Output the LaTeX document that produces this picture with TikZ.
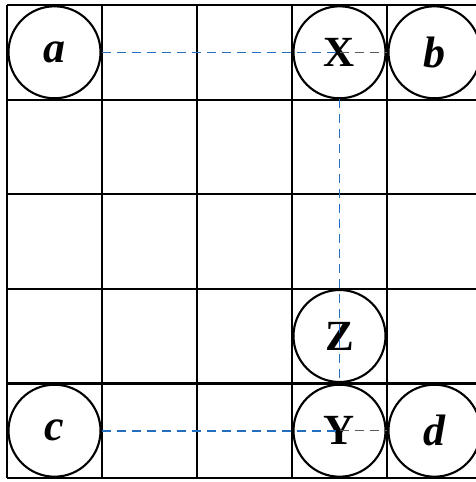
\documentclass[tikz,border=0pt]{standalone}
\usepackage{fontspec}
\setmainfont{Liberation Serif}
\definecolor{dashblue}{RGB}{35,110,190}
\definecolor{dashgray}{RGB}{90,90,90}
\begin{document}
\begin{tikzpicture}[x=1pt,y=-1pt,
  cell/.style={circle,draw=black,line width=2.1pt,minimum size=92pt,inner sep=0pt,font=\fontsize{43}{43}\selectfont\bfseries},
  lowl/.style={cell,font=\fontsize{44}{44}\selectfont\bfseries\itshape},
  bluedash/.style={draw=dashblue,line width=1.6pt,dash pattern=on 9pt off 6pt},
  graydash/.style={draw=dashgray,line width=1.3pt,dash pattern=on 9pt off 6pt}]
\useasboundingbox (0,0) rectangle (476,482);
\fill[white] (0,0) rectangle (476,482);
% grid
\foreach \i in {0,...,5} {
  \draw[line width=2.2pt] ({7+95*\i},5) -- ({7+95*\i},478);
  \draw[line width=2.2pt] (7,{5+94.6*\i}) -- (482,{5+94.6*\i});
}
% nodes
\node[lowl] (a) at (54.5,52.3) {a};
\node[cell] (X) at (339.5,52.3) {X};
\node[lowl] (b) at (434.5,52.3) {b};
\node[cell] (Z) at (339.5,336) {Z};
\node[cell] (Y) at (339.5,430.7) {Y};
\node[lowl] (c) at (54.5,430.7) {c};
\node[lowl] (d) at (434.5,430.7) {d};
% connectors
\draw[bluedash] (a.east) -- (X.center);
\draw[graydash] (X.center) -- (X.east);
\draw[bluedash] (X.south) -- (Y.north);
\draw[bluedash] (c.east) -- (Y.center);
\draw[graydash] (Y.center) -- (Y.east);
\end{tikzpicture}
\end{document}
